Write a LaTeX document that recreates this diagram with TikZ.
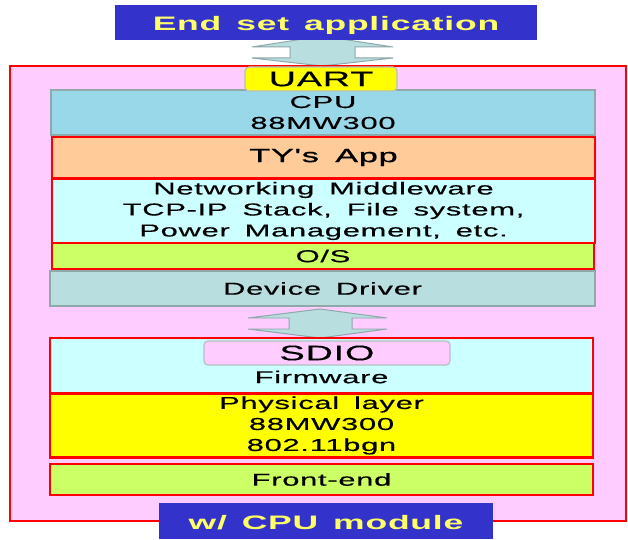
\documentclass[tikz,border=0pt]{standalone}
\usepackage{fontspec}
\setmainfont{Liberation Sans}[FakeStretch=1.8,LetterSpace=4,WordSpace=1.6,FakeBold=0.4]
\newfontfamily\tyfont{Liberation Sans}[FakeStretch=1.8,LetterSpace=4,WordSpace=1.6,FakeBold=1.2]
\newfontfamily\hdfont{Liberation Sans Bold}[FakeStretch=1.82,LetterSpace=4,WordSpace=1.4]
\definecolor{hblue}{HTML}{3333CC}
\definecolor{htext}{HTML}{FFFF66}
\definecolor{pinkbg}{HTML}{FFCCFF}
\definecolor{cpublue}{HTML}{99D8E8}
\definecolor{gborder}{HTML}{8FA8AA}
\definecolor{orangebg}{HTML}{FFCC99}
\definecolor{cyanbg}{HTML}{CCFFFF}
\definecolor{greenbg}{HTML}{CCFF66}
\definecolor{ddbg}{HTML}{B8DEE0}
\definecolor{ybg}{HTML}{FFFF00}
\tikzset{
  blk/.style={minimum width=#1, inner sep=0pt, anchor=center, align=center},
  redbox/.style={draw=red, line width=2.2pt},
  greybox/.style={draw=gborder, line width=2.2pt},
  header/.style={fill=hblue, text=htext, text height=17bp, text depth=0bp, font=\hdfont\fontsize{19.5bp}{23bp}\selectfont},
  body/.style={font=\fontsize{17.2bp}{21bp}\selectfont},
  tag/.style={rounded corners=4bp, draw=gborder!70, line width=1.2pt, font=\fontsize{21bp}{24bp}\selectfont},
  barrow/.style={fill=ddbg, draw=gborder, line width=1pt},
}
\begin{document}
\begin{tikzpicture}[x=1bp,y=-1bp]
\useasboundingbox (0,0) rectangle (628,540);
% upper block arrow
\draw[barrow] (322,36) -- (393,47) -- (355,47) -- (355,58) -- (393,58) -- (322,66)
  -- (252,58) -- (290,58) -- (290,47) -- (252,47) -- cycle;
\node[blk=422bp, minimum height=35bp, header] (top) at (326,22.5) {End set application};
\node[blk=616bp, minimum height=455bp, fill=pinkbg, draw=red, line width=2.6pt] (outer) at (318,293.5) {};
\node[blk=544bp, minimum height=45bp, fill=cpublue, greybox, body] (cpu) at (323,112.5) {CPU\\88MW300};
\node[blk=152bp, minimum height=24bp, fill=ybg, tag] (uart) at (321,79) {UART};
\node[blk=543bp, minimum height=41bp, fill=orangebg, redbox, font=\tyfont\fontsize{19bp}{22bp}\selectfont] (ty) at (323.5,157.5) {TY's App};
\node[blk=543bp, minimum height=64bp, fill=cyanbg, redbox, body] (net) at (323.5,211) {Networking Middleware\\TCP-IP Stack, File system,\\Power Management, etc.};
\node[blk=542bp, minimum height=26bp, fill=greenbg, redbox, body] (os) at (323,256) {O/S};
\node[blk=545bp, minimum height=35bp, fill=ddbg, greybox, body] (dd) at (322.5,288.5) {Device Driver};
% lower block arrow
\draw[barrow] (320,309) -- (387,318) -- (352,318) -- (352,329) -- (387,329) -- (320,338)
  -- (248,329) -- (289,329) -- (289,318) -- (248,318) -- cycle;
\node[blk=543bp, minimum height=55bp, fill=cyanbg, redbox] (fw) at (321.5,365.5) {};
\node[blk=246bp, minimum height=24bp, fill=pinkbg, tag] (sdio) at (327,353) {SDIO};
\node[body, inner sep=0pt] (fwt) at (321.5,377) {Firmware};
\node[blk=543bp, minimum height=64bp, fill=ybg, redbox, body] (phy) at (321.5,425.5) {Physical layer\\88MW300\\802.11bgn};
\node[blk=543bp, minimum height=31bp, fill=greenbg, redbox, body] (fe) at (321.5,479.5) {Front-end};
\node[blk=334bp, minimum height=36bp, header] (bot) at (326,521) {w/ CPU module};
\end{tikzpicture}
\end{document}
